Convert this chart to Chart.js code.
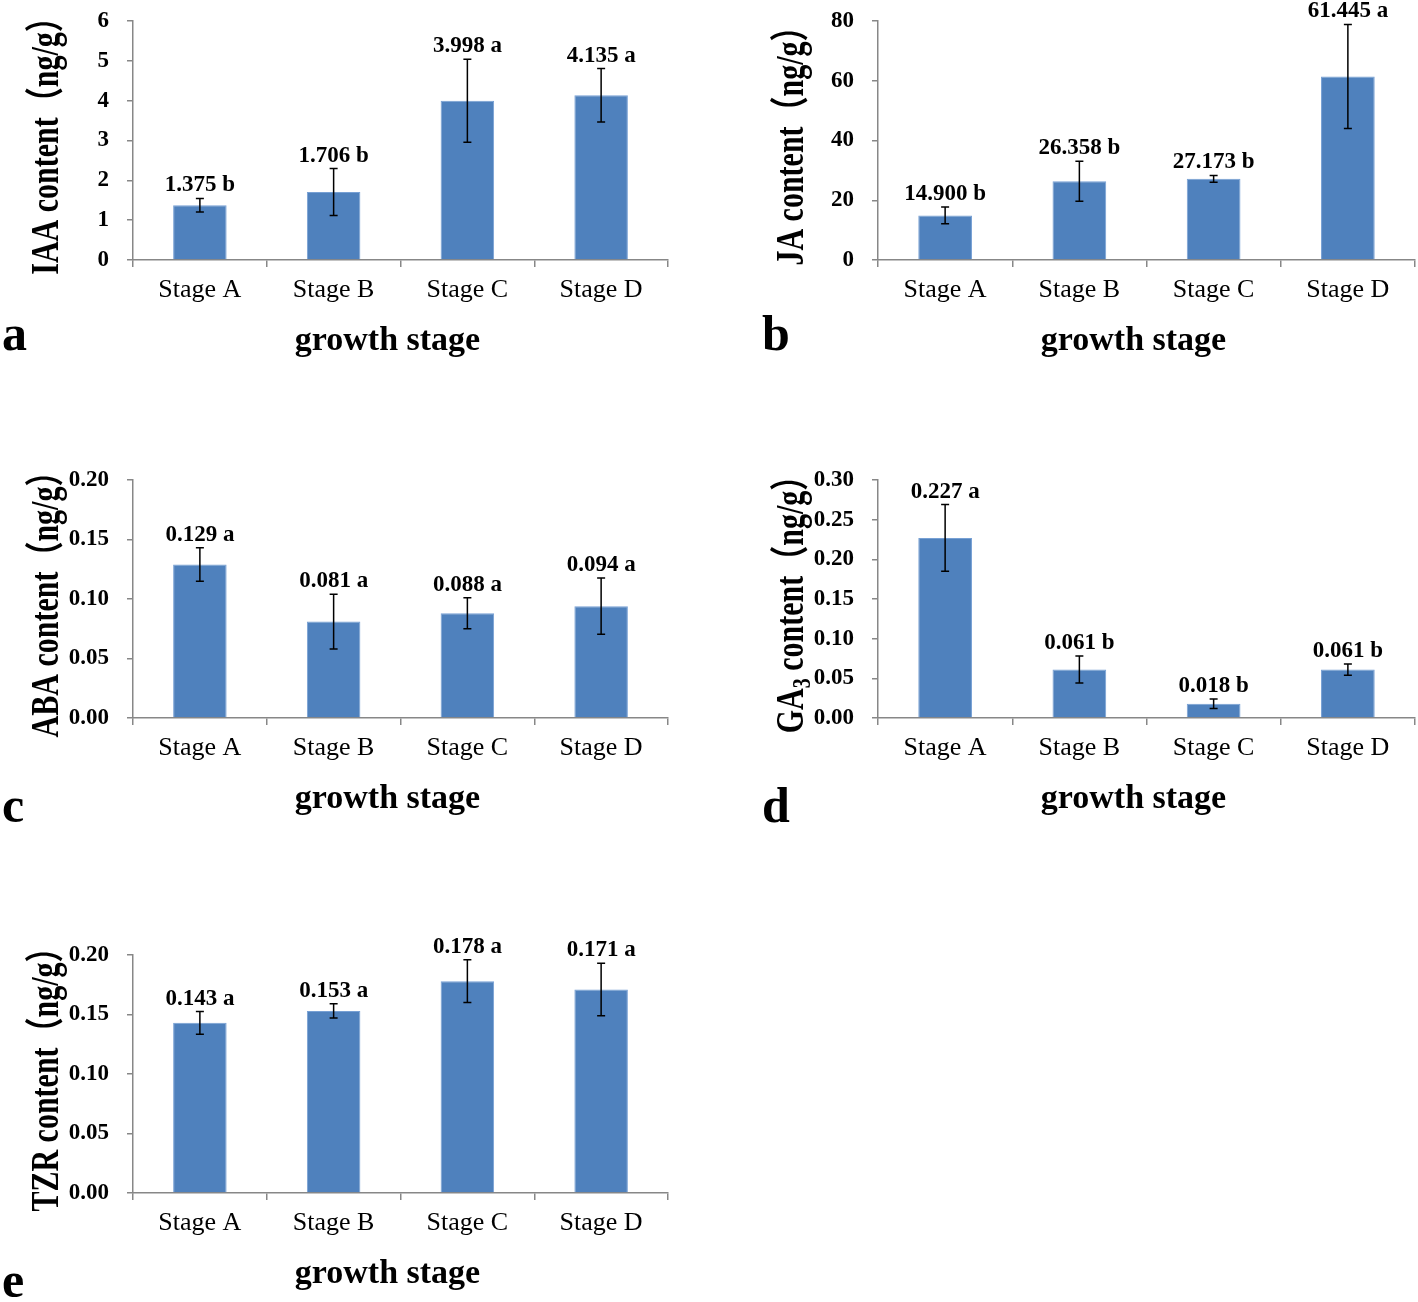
<!DOCTYPE html>
<html>
<head>
<meta charset="utf-8">
<script src="https://cdn.jsdelivr.net/npm/chart.js@4.4.1/dist/chart.umd.min.js"></script>
<style>
  body { margin: 0; background: #fff; width: 1418px; height: 1302px; overflow: hidden; position: relative; }
  canvas { position: absolute; }
</style>
</head>
<body>
<canvas id="chartA" width="690" height="370" style="left:0px;top:0px;width:690px;height:370px"></canvas>
<canvas id="chartB" width="670" height="370" style="left:748px;top:0px;width:670px;height:370px"></canvas>
<canvas id="chartC" width="690" height="370" style="left:0px;top:458px;width:690px;height:370px"></canvas>
<canvas id="chartD" width="670" height="370" style="left:748px;top:458px;width:670px;height:370px"></canvas>
<canvas id="chartE" width="690" height="370" style="left:0px;top:933px;width:690px;height:370px"></canvas>
<script>
// datos de cada panel
const stages = ['Stage A', 'Stage B', 'Stage C', 'Stage D'];

const iaaValues  = [1.375, 1.706, 3.998, 4.135];
const iaaErrors  = [0.17, 0.59, 1.04, 0.67];
const iaaLetters = ['b', 'b', 'a', 'a'];
const iaaTicks   = ['0', '1', '2', '3', '4', '5', '6'];

const jaValues  = [14.900, 26.358, 27.173, 61.445];
const jaErrors  = [2.8, 6.7, 1.15, 17.4];
const jaLetters = ['b', 'b', 'b', 'a'];
const jaTicks   = ['0', '20', '40', '60', '80'];

const abaValues  = [0.129, 0.081, 0.088, 0.094];
const abaErrors  = [0.014, 0.023, 0.013, 0.0236];
const abaLetters = ['a', 'a', 'a', 'a'];
const abaTicks   = ['0.00', '0.05', '0.10', '0.15', '0.20'];

const ga3Values  = [0.227, 0.061, 0.018, 0.061];
const ga3Errors  = [0.042, 0.017, 0.006, 0.007];
const ga3Letters = ['a', 'b', 'b', 'b'];
const ga3Ticks   = ['0.00', '0.05', '0.10', '0.15', '0.20', '0.25', '0.30'];

const tzrValues  = [0.143, 0.153, 0.178, 0.171];
const tzrErrors  = [0.0095, 0.006, 0.018, 0.022];
const tzrLetters = ['a', 'a', 'a', 'a'];
const tzrTicks   = ['0.00', '0.05', '0.10', '0.15', '0.20'];

const SERIF = '"Liberation Serif", "Times New Roman", "Noto Sans CJK SC", serif';
const AXIS_GRAY = '#878787';
const BAR_BLUE = '#4F81BD';

// barras de error, etiquetas, títulos y letra del panel
const overlay = {
  id: 'overlay',
  afterDraw(chart, args, o) {
    const ctx = chart.ctx;
    const yScale = chart.scales.y;
    const meta = chart.getDatasetMeta(0);
    const area = chart.chartArea;

    ctx.save();
    ctx.strokeStyle = '#000';
    ctx.fillStyle = '#000';
    ctx.lineWidth = 1.5;
    meta.data.forEach((bar, i) => {
      const v = o.values[i], e = o.errors[i];
      const yTop = yScale.getPixelForValue(v + e);
      const yBot = yScale.getPixelForValue(v - e);
      ctx.beginPath();
      ctx.moveTo(bar.x, yTop); ctx.lineTo(bar.x, yBot);
      ctx.moveTo(bar.x - 4, yTop); ctx.lineTo(bar.x + 4, yTop);
      ctx.moveTo(bar.x - 4, yBot); ctx.lineTo(bar.x + 4, yBot);
      ctx.stroke();

      ctx.font = 'bold 23px ' + SERIF;
      ctx.textAlign = 'center';
      ctx.textBaseline = 'alphabetic';
      ctx.fillText(v.toFixed(3) + ' ' + o.letters[i], bar.x, yTop - 7);
    });

    // título eje x
    ctx.font = 'bold 34px ' + SERIF;
    ctx.textAlign = 'center';
    ctx.fillText('growth stage', (area.left + area.right) / 2 - 13, area.bottom + 90);

    // título eje y (rotado, algo estirado como el original)
    const cy = (area.top + area.bottom) / 2 - 2;
    ctx.translate(area.left - 75, cy);
    ctx.rotate(-Math.PI / 2);
    ctx.scale(1, 1.3);
    ctx.textAlign = 'left';
    const mainFont = 'bold 30px ' + SERIF;
    const subFont = 'bold 20px ' + SERIF;
    let total = 0;
    o.yTitle.forEach(s => { ctx.font = s.sub ? subFont : mainFont; total += ctx.measureText(s.text).width; });
    let x = -total / 2;
    o.yTitle.forEach(s => {
      ctx.font = s.sub ? subFont : mainFont;
      ctx.fillText(s.text, x, s.sub ? 5 : 0);
      x += ctx.measureText(s.text).width;
    });
    ctx.restore();

    // letra del panel
    ctx.save();
    ctx.font = 'bold 50px ' + SERIF;
    ctx.textAlign = 'left';
    ctx.textBaseline = 'alphabetic';
    ctx.fillStyle = '#000';
    ctx.fillText(o.letter, o.letterX, o.letterY);
    ctx.restore();
  }
};

function crearPanel(id, p) {
  const canvas = document.getElementById(id);
  const step = p.yMax / (p.ticks.length - 1);
  return new Chart(canvas, {
    type: 'bar',
    data: {
      labels: stages,
      datasets: [{
        data: p.values,
        backgroundColor: BAR_BLUE,
        borderColor: '#77A0D4',
        borderWidth: 1,
        categoryPercentage: 1,
        barPercentage: 0.4
      }]
    },
    options: {
      responsive: false,
      animation: false,
      devicePixelRatio: 1,
      layout: { padding: { top: p.top, right: canvas.width - p.right, left: 0, bottom: 0 } },
      plugins: {
        legend: { display: false },
        tooltip: { enabled: false },
        overlay: {
          values: p.values, errors: p.errors, letters: p.letters,
          yTitle: p.yTitle, letter: p.letter, letterX: p.letterX, letterY: p.letterY
        }
      },
      scales: {
        x: {
          grid: { offset: true, drawOnChartArea: false, tickLength: 7, color: AXIS_GRAY, lineWidth: 1.5 },
          border: { color: AXIS_GRAY, width: 1.5 },
          ticks: { color: '#000', padding: 8, font: { family: SERIF, size: 26 } },
          afterFit: s => { s.height = 110; s.paddingLeft = 0; s.paddingRight = 0; }
        },
        y: {
          min: 0,
          max: p.yMax,
          grid: { drawOnChartArea: false, tickLength: 6, color: AXIS_GRAY, lineWidth: 1.5 },
          border: { color: AXIS_GRAY, width: 1.5 },
          ticks: {
            stepSize: step,
            color: '#000',
            padding: 18,
            font: { family: SERIF, size: 23, weight: 'bold' },
            callback: (v, i) => p.ticks[i]
          },
          // el área de dibujo se fija a mano, sin el relleno automático de las etiquetas
          afterFit: s => { s.width = p.left; s.paddingTop = 0; s.paddingBottom = 0; }
        }
      }
    },
    plugins: [overlay]
  });
}

crearPanel('chartA', {
  values: iaaValues, errors: iaaErrors, letters: iaaLetters, ticks: iaaTicks, yMax: 6,
  yTitle: [{ text: 'IAA content（ng/g）' }], letter: 'a', letterX: 2, letterY: 350,
  left: 133, right: 668, top: 21
});
crearPanel('chartB', {
  values: jaValues, errors: jaErrors, letters: jaLetters, ticks: jaTicks, yMax: 80,
  yTitle: [{ text: 'JA content（ng/g）' }], letter: 'b', letterX: 14, letterY: 350,
  left: 130, right: 667, top: 21
});
crearPanel('chartC', {
  values: abaValues, errors: abaErrors, letters: abaLetters, ticks: abaTicks, yMax: 0.2,
  yTitle: [{ text: 'ABA content（ng/g）' }], letter: 'c', letterX: 2, letterY: 364,
  left: 133, right: 668, top: 22
});
crearPanel('chartD', {
  values: ga3Values, errors: ga3Errors, letters: ga3Letters, ticks: ga3Ticks, yMax: 0.3,
  yTitle: [{ text: 'GA' }, { text: '3', sub: true }, { text: ' content（ng/g）' }], letter: 'd', letterX: 14, letterY: 364,
  left: 130, right: 667, top: 22
});
crearPanel('chartE', {
  values: tzrValues, errors: tzrErrors, letters: tzrLetters, ticks: tzrTicks, yMax: 0.2,
  yTitle: [{ text: 'TZR content（ng/g）' }], letter: 'e', letterX: 2, letterY: 364,
  left: 133, right: 668, top: 22
});
</script>
</body>
</html>
